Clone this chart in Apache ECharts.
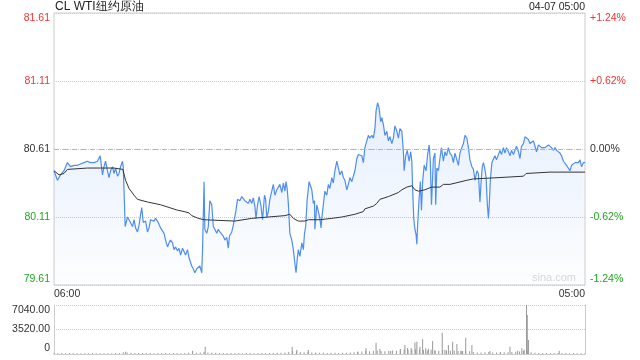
<!DOCTYPE html>
<html>
<head>
<meta charset="utf-8">
<script src="https://cdn.jsdelivr.net/npm/echarts@6/dist/echarts.min.js"></script>
<style>html,body{margin:0;padding:0;background:#fff;}#c{width:640px;height:360px;}</style>
</head>
<body>
<div id="c"></div>
<script>
// ---- data ----
const titleText = 'CL WTI纽约原油';
const dateText = '04-07 05:00';
const prevClose = 80.61;
const priceMin = 79.61, priceMax = 81.61, priceStep = 0.5;
const volMax = 7040, volStep = 3520;
const sessionStartMinute = 6 * 60; // 06:00
const sessionLength = 1380;        // to 05:00

// minutes since 06:00
const priceMinutes = [0,9,17,26,35,43,52,61,69,78,87,95,104,113,120,126,130,134,139,143,147,152,156,160,165,169,173,178,180,182,185,191,195,199,204,208,212,217,221,225,228,232,238,243,247,251,256,260,264,269,273,277,282,286,290,295,299,303,308,312,316,321,325,329,334,338,342,347,351,
353,358,362,366,371,375,379,384,386,390,392,397,401,405,410,414,418,423,427,431,436,440,444,449,453,456,462,466,470,473,477,483,488,492,496,501,505,509,514,518,522,525,529,533,538,542,547,550,553,557,561,566,570,574,579,583,587,592,596,600,603,606,609,613,618,622,626,629,632,635,639,644,648,651,654,658,663,665,670,674,677,678,683,687,
691,694,696,700,704,709,713,717,722,726,730,735,739,743,748,752,756,761,765,769,774,778,782,787,791,795,800,804,808,813,817,821,826,830,834,837,841,845,849,852,856,860,865,869,873,878,882,886,891,895,899,904,908,910,914,918,923,927,930,932,935,938,941,943,945,949,952,955,958,962,967,971,975,978,981,986,990,992,995,999,1003,1007,1012,1016,1020,1025,1029,
1034,1038,1042,1047,1051,1055,1060,1064,1068,1073,1077,1081,1086,1090,1094,1099,1103,1107,1110,1113,1116,1120,1123,1126,1129,1131,1134,1138,1142,1146,1150,1155,1159,1163,1168,1172,1176,1181,1185,1189,1194,1198,1202,1207,1211,1215,1220,1224,1228,1233,1237,1241,1246,1250,1254,1259,1263,1267,1272,1276,1280,1285,1289,1293,1298,1302,1306,1311,1315,1319,1324,1328,1332,1337,1341,1345,1350,1354,1358,1363,1367,1371,1376,1380];
const priceValues = [80.45,80.38,80.42,80.45,80.51,80.48,80.49,80.49,80.50,80.51,80.52,80.51,80.51,80.52,80.56,80.42,80.48,80.52,80.45,80.40,80.45,80.48,80.43,80.47,80.41,80.43,80.48,80.52,80.48,80.31,80.04,80.11,80.09,80.10,80.04,80.09,80.03,80.00,80.05,80.13,80.18,80.07,80.08,80.00,80.03,80.09,80.10,80.08,80.10,80.08,80.07,80.03,80.03,79.99,79.94,79.89,79.92,79.94,79.92,79.87,79.89,79.86,79.88,79.83,79.88,79.89,79.83,79.87,79.81,
79.80,79.75,79.73,79.70,79.73,79.72,79.75,79.70,79.87,80.37,80.02,79.99,80.04,80.23,80.20,80.04,80.02,79.99,80.02,80.00,79.99,79.97,79.94,79.96,79.88,79.97,80.00,80.05,80.04,80.16,80.24,80.23,80.26,80.27,80.23,80.24,80.21,80.24,80.21,80.25,80.19,80.10,80.20,80.26,80.19,80.09,80.27,80.24,80.11,80.15,80.24,80.25,80.35,80.27,80.31,80.32,80.35,80.29,80.36,80.30,80.37,80.32,80.21,79.99,79.94,79.87,79.77,79.70,79.80,79.87,79.82,79.92,79.87,79.99,80.04,80.24,80.37,80.38,80.31,80.21,80.23,80.02,80.20,80.20,
80.10,80.03,80.10,80.20,80.30,80.27,80.35,80.32,80.40,80.36,80.45,80.52,80.53,80.42,80.45,80.40,80.38,80.31,80.35,80.40,80.37,80.41,80.45,80.54,80.57,80.58,80.56,80.51,80.62,80.67,80.71,80.69,80.71,80.69,80.76,80.89,80.95,80.91,80.81,80.84,80.79,80.71,80.74,80.67,80.70,80.65,80.69,80.78,80.74,80.69,80.76,80.74,80.59,80.45,80.56,80.60,80.52,80.59,80.52,80.32,80.10,80.02,79.98,79.91,80.05,80.25,80.37,80.16,80.37,80.49,80.45,80.57,80.64,80.52,80.20,80.54,80.58,80.20,80.47,80.45,80.54,80.62,80.52,80.59,80.56,80.62,80.58,
80.56,80.51,80.58,80.53,80.49,80.58,80.62,80.65,80.71,80.69,80.62,80.53,80.48,80.46,80.38,80.45,80.43,80.22,80.37,80.48,80.51,80.46,80.40,80.21,80.10,80.19,80.38,80.51,80.52,80.56,80.53,80.54,80.60,80.57,80.62,80.58,80.62,80.59,80.56,80.60,80.57,80.58,80.63,80.59,80.54,80.63,80.65,80.70,80.69,80.68,80.65,80.64,80.67,80.63,80.59,80.64,80.63,80.62,80.63,80.62,80.63,80.64,80.65,80.62,80.60,80.62,80.60,80.59,80.58,80.56,80.52,80.53,80.49,80.48,80.45,80.49,80.48,80.51,80.52,80.51,80.53,80.48,80.51,80.51];

const avgMinutes = [0,13,26,35,87,121,156,179,186,195,208,217,243,277,299,321,338,351,358,375,390,470,514,557,600,613,622,635,652,661,691,722,748,782,804,808,830,839,847,869,895,904,917,930,938,947,964,981,1003,1012,1029,1073,1090,1159,1220,1227,1289,1380];
const avgValues = [80.45,80.42,80.43,80.46,80.47,80.47,80.47,80.46,80.38,80.32,80.27,80.24,80.22,80.20,80.18,80.16,80.15,80.14,80.12,80.10,80.09,80.08,80.10,80.11,80.12,80.13,80.10,80.08,80.08,80.09,80.09,80.10,80.11,80.13,80.15,80.17,80.19,80.21,80.24,80.26,80.29,80.31,80.33,80.34,80.31,80.30,80.31,80.33,80.33,80.35,80.35,80.38,80.39,80.40,80.41,80.43,80.44,80.44];

const volMinutes = [0,10,20,30,40,50,60,70,80,90,100,110,120,130,140,150,160,170,180,190,200,210,220,230,240,250,260,270,280,290,300,310,320,330,340,350,360,370,380,390,400,410,420,430,440,450,460,470,480,490,500,510,520,530,540,550,560,570,580,590,600,610,620,630,640,650,660,670,680,690,700,710,720,730,740,750,760,770,780,790,800,810,820,830,840,850,860,870,880,890,900,910,920,930,940,950,960,970,980,990,1000,1010,1020,1030,1040,1050,1060,1070,1080,1090,1100,1110,1120,1130,1140,1150,1160,1170,1180,1190,1200,1210,1220,1230,1240,1250,1260,1270,1280,1290,1300,1310,1320,1330,1340,1350,1360,1370,1380,
186,360,393,619,631,661,789,811,837,847,875,900,912,919,928,938,943,951,958,966,973,984,990,1009,1016,1025,1036,1047,1057,1062,1070,1086,1133,1160,1185,1205,1216,1222,1228,1230,1233,1313];
const volValues = [150,120,140,110,130,100,120,90,110,100,130,90,110,100,120,110,140,130,260,220,180,160,150,140,130,150,120,140,130,150,120,140,130,120,150,170,200,180,220,300,200,180,160,140,150,130,140,120,130,120,140,130,120,130,150,140,160,150,170,180,220,300,420,380,280,260,300,220,200,180,170,160,180,170,160,180,170,200,250,330,360,420,380,450,500,420,380,460,520,480,520,600,560,620,700,640,580,520,600,540,480,560,520,480,500,440,420,460,400,300,220,200,240,280,220,200,220,240,260,300,320,360,420,480,260,180,160,150,140,150,140,160,130,140,120,130,120,110,100,
330,480,1050,1050,580,580,330,810,1630,720,430,720,1300,860,860,1670,1770,1050,2110,810,760,1870,480,3070,600,1300,1770,1440,480,430,2350,1300,430,300,1050,480,810,600,7040,5600,2000,480];

// ---- build ----
const pricePts = priceMinutes.map((m, i) => [m, priceValues[i]]);
const avgPts = avgMinutes.map((m, i) => [m, avgValues[i]]);
const volPts = volMinutes.map((m, i) => [m, volValues[i]]);

const RED = '#ee3333', GREEN = '#1ea51e', DARK = '#333333', GRID = '#cccccc';
const FONT = 'Liberation Sans, Arial, sans-serif';

function fmtTime(m) {
  const t = (sessionStartMinute + m) % 1440;
  const h = Math.floor(t / 60), mm = t % 60;
  return String(h).padStart(2, '0') + ':' + String(mm).padStart(2, '0');
}
function priceColor(v) {
  const d = v - prevClose;
  if (Math.abs(d) < 0.005) return DARK;
  return d > 0 ? RED : GREEN;
}
function pctText(v) {
  const p = (v - prevClose) / prevClose * 100;
  if (Math.abs(p) < 0.005) return '0.00%';
  return (p > 0 ? '+' : '') + p.toFixed(2) + '%';
}

const chart = echarts.init(document.getElementById('c'), null, { renderer: 'canvas' });
chart.setOption({
  animation: false,
  textStyle: { fontFamily: FONT },
  title: {
    text: titleText, left: 55, top: 0, padding: 0,
    textStyle: { fontSize: 12, fontWeight: 'normal', color: '#222', fontFamily: FONT, lineHeight: 14 }
  },
  graphic: [
    { type: 'text', right: 55, top: 2, style: { text: dateText, fill: '#222', font: '10.5px ' + FONT } },
    { type: 'text', left: 532, top: 272, z: 1, style: { text: 'sina.com', fill: '#d8d8d8', font: '11px ' + FONT } }
  ],
  grid: [
    { left: 54, right: 55, top: 13, height: 272, show: true, borderColor: GRID, borderWidth: 1 },
    { left: 54, right: 55, top: 305, height: 49 }
  ],
  xAxis: [
    {
      gridIndex: 0, type: 'value', min: 0, max: sessionLength, interval: sessionLength,
      axisLine: { show: false }, axisTick: { show: false }, splitLine: { show: false },
      axisLabel: {
        formatter: v => fmtTime(v), fontSize: 10.5, color: DARK, margin: 4,
        alignMinLabel: 'left', alignMaxLabel: 'right'
      }
    },
    {
      gridIndex: 1, type: 'value', min: 0, max: sessionLength,
      axisLine: { show: true, lineStyle: { color: GRID } }, axisTick: { show: false },
      axisLabel: { show: false }, splitLine: { show: false }
    }
  ],
  yAxis: [
    {
      gridIndex: 0, type: 'value', min: priceMin, max: priceMax, interval: priceStep,
      axisLine: { show: false }, axisTick: { show: false },
      splitLine: { show: true, lineStyle: { color: GRID, type: 'dotted' } },
      axisLabel: {
        formatter: v => v.toFixed(2), color: v => priceColor(v), fontSize: 10.5, margin: 4,
        verticalAlignMinLabel: 'bottom', verticalAlignMaxLabel: 'top'
      }
    },
    {
      gridIndex: 0, type: 'value', position: 'right', min: priceMin, max: priceMax, interval: priceStep,
      axisLine: { show: false }, axisTick: { show: false }, splitLine: { show: false },
      axisLabel: {
        formatter: v => pctText(v), color: v => priceColor(v), fontSize: 10.5, margin: 5,
        verticalAlignMinLabel: 'bottom', verticalAlignMaxLabel: 'top'
      }
    },
    {
      gridIndex: 1, type: 'value', min: 0, max: volMax, interval: volStep,
      axisLine: { show: true, lineStyle: { color: GRID } }, axisTick: { show: false },
      splitLine: { show: true, lineStyle: { color: GRID, type: 'dotted' } },
      axisLabel: {
        formatter: v => (v === 0 ? '0' : v.toFixed(2)), color: DARK, fontSize: 10.5, margin: 4,
        verticalAlignMinLabel: 'bottom', verticalAlignMaxLabel: 'top'
      }
    },
    {
      gridIndex: 1, type: 'value', position: 'right', min: 0, max: volMax, interval: volStep,
      axisLine: { show: true, lineStyle: { color: GRID } }, axisTick: { show: false },
      splitLine: { show: false }, axisLabel: { show: false }
    }
  ],
  series: [
    {
      type: 'line', xAxisIndex: 0, yAxisIndex: 0, data: pricePts, symbol: 'none',
      lineStyle: { color: '#4d8ef0', width: 1.2 },
      areaStyle: {
        color: new echarts.graphic.LinearGradient(0, 0, 0, 1, [
          { offset: 0, color: 'rgba(77,142,240,0.20)' },
          { offset: 1, color: 'rgba(77,142,240,0.02)' }
        ])
      },
      markLine: {
        silent: true, symbol: 'none', label: { show: false },
        lineStyle: { color: '#f4a36c', type: [5, 4], width: 1 },
        data: [{ yAxis: prevClose }]
      },
      z: 3
    },
    {
      type: 'line', xAxisIndex: 0, yAxisIndex: 0, data: avgPts, symbol: 'none',
      lineStyle: { color: '#333', width: 1 }, z: 4
    },
    {
      type: 'bar', xAxisIndex: 1, yAxisIndex: 2, data: volPts, barWidth: 1,
      itemStyle: { color: '#999' }
    }
  ]
});
</script>
</body>
</html>
